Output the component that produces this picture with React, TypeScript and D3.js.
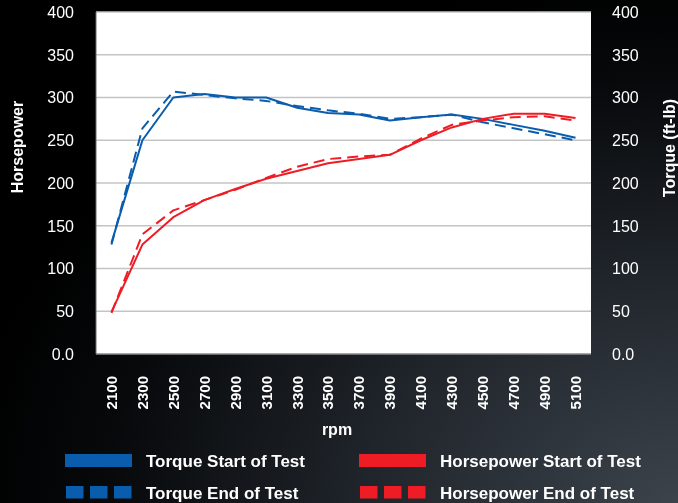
import React from 'react';
import * as d3 from 'd3';

const width = 678,
      height = 503;

const rpm = ['2100', '2300', '2500', '2700', '2900', '3100', '3300', '3500', '3700', '3900', '4100', '4300', '4500', '4700', '4900', '5100'];
const torqueStart = [130, 250, 300, 304, 300, 300, 288, 282, 280, 273, 277, 280, 275, 268, 261, 253];
const torqueEnd = [128, 264, 307, 303, 299, 296, 290, 285, 281, 275, 277, 280, 271, 264, 257, 250];
const hpStart = [49, 128, 160, 180, 193, 205, 214, 223, 228, 233, 250, 265, 275, 281, 281, 276];
const hpEnd = [48, 140, 168, 180, 192, 206, 219, 228, 231, 233, 252, 268, 273, 277, 278, 273];
const yTicks = [0, 50, 100, 150, 200, 250, 300, 350, 400];
const yTickLabels = ['0.0', '50', '100', '150', '200', '250', '300', '350', '400'];

const BLUE = '#0a5cad';
const RED = '#ee1d25';
const FONT = '"Liberation Sans", Arial, Helvetica, sans-serif';

const plot = { left: 96, right: 591, top: 12, bottom: 354 };

const series = [
  { name: 'Torque Start of Test', values: torqueStart, color: BLUE, dashed: false },
  { name: 'Torque End of Test', values: torqueEnd, color: BLUE, dashed: true },
  { name: 'Horsepower Start of Test', values: hpStart, color: RED, dashed: false },
  { name: 'Horsepower End of Test', values: hpEnd, color: RED, dashed: true },
];

const App = () => {
  const x = d3.scalePoint<string>().domain(rpm).range([plot.left, plot.right]).padding(0.5);
  const y = d3.scaleLinear().domain([0, 400]).range([plot.bottom, plot.top]);

  const line = d3.line<number>()
    .x((d, i) => x(rpm[i]) as number)
    .y(d => y(d));

  // legend layout: two columns, two rows
  const legendCols = [65, 359];
  const legendRows = [454, 486];

  return (
    <svg width={width} height={height} style={{ position: 'fixed', left: 0, top: 0, display: 'block' }} fontFamily={FONT}>
      <defs>
        <radialGradient id="bg" cx="1" cy="1" r="1.05" gradientUnits="objectBoundingBox">
          <stop offset="0%" stopColor="#3c434b" />
          <stop offset="45%" stopColor="#1f242a" />
          <stop offset="80%" stopColor="#07090b" />
          <stop offset="100%" stopColor="#000000" />
        </radialGradient>
      </defs>
      <rect x={0} y={0} width={width} height={height} fill="url(#bg)" />

      {/* plot area */}
      <rect x={plot.left} y={plot.top} width={plot.right - plot.left} height={plot.bottom - plot.top} fill="#fff" />
      {yTicks.filter(t => t > 0).map(t => (
        <line key={t} x1={plot.left} x2={plot.right} y1={y(t)} y2={y(t)} stroke="#c4c4c6" strokeWidth={1.5} />
      ))}
      <line x1={plot.left} x2={plot.right} y1={plot.bottom} y2={plot.bottom} stroke="#8a8a8c" strokeWidth={1.5} />
      <line x1={plot.left} x2={plot.left} y1={plot.top} y2={plot.bottom} stroke="#6a6a6c" strokeWidth={1} />

      {/* y tick labels */}
      {yTicks.map((t, i) => (
        <g key={t}>
          <text x={74} y={y(t)} dy="0.36em" textAnchor="end" fill="#fff" fontSize={16}>{yTickLabels[i]}</text>
          <text x={612} y={y(t)} dy="0.36em" textAnchor="start" fill="#fff" fontSize={16}>{yTickLabels[i]}</text>
        </g>
      ))}

      {/* x tick labels */}
      {rpm.map(r => (
        <text key={r} transform={`translate(${x(r)},376) rotate(-90)`} dy="0.36em" textAnchor="end"
          fill="#fff" fontSize={15} fontWeight="bold">{r}</text>
      ))}

      {/* axis titles */}
      <text x={337} y={435} textAnchor="middle" fill="#fff" fontSize={16} fontWeight="bold">rpm</text>
      <text transform="translate(17,147) rotate(-90)" dy="0.36em" textAnchor="middle" fill="#fff" fontSize={16} fontWeight="bold">Horsepower</text>
      <text transform="translate(669,148) rotate(-90)" dy="0.36em" textAnchor="middle" fill="#fff" fontSize={16} fontWeight="bold">Torque (ft-lb)</text>

      {/* series */}
      {series.map(s => (
        <path key={s.name} d={line(s.values) || ''} fill="none" stroke={s.color} strokeWidth={2}
          strokeDasharray={s.dashed ? '11,6' : undefined} strokeLinejoin="round" />
      ))}

      {/* legend */}
      {series.map((s, i) => {
        const lx = legendCols[i < 2 ? 0 : 1];
        const ly = legendRows[i % 2];
        return (
          <g key={s.name}>
            {s.dashed
              ? [0, 1, 2].map(k => (
                  <rect key={k} x={lx + 1 + k * 24} y={ly} width={17.5} height={12.5} fill={s.color} />
                ))
              : <rect x={lx} y={ly} width={67} height={13} fill={s.color} />}
            <text x={lx + 81} y={ly + 13} fill="#fff" fontSize={17} fontWeight="bold">{s.name}</text>
          </g>
        );
      })}
    </svg>
  );
};

export default App;
